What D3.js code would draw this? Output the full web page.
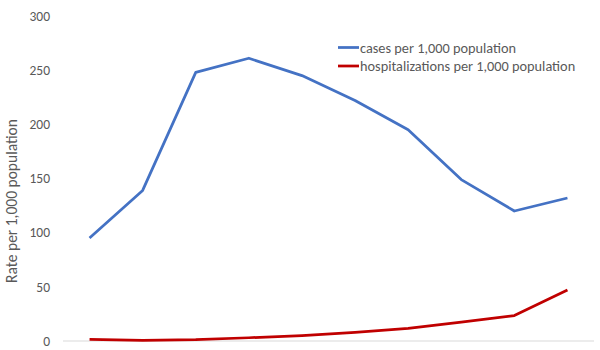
<!DOCTYPE html>
<html>
<head>
<meta charset="UTF-8">
<script src="https://d3js.org/d3.v7.min.js"></script>
<style>
  body { margin: 0; background: #fff; }
  text { font-family: Calibri, Carlito, "Liberation Sans", sans-serif; fill: #595959; }
</style>
</head>
<body>
<div id="chart"></div>
<script>
// data
var periods = ["1", "2", "3", "4", "5", "6", "7", "8", "9", "10"];
var cases = [95, 139, 248, 261, 245, 222, 195, 149, 120, 132];
var hosp = [1.6, 0.5, 1.2, 3, 5, 8, 11.7, 17.5, 23.5, 47];
var yTicks = [0, 50, 100, 150, 200, 250, 300];
var seriesNames = ["cases per 1,000 population", "hospitalizations per 1,000 population"];
var colors = ["#4472C4", "#C00000"];

var width = 600, height = 350;
var margin = {left: 63, top: 16, right: 6, bottom: 9};
var w = width - margin.left - margin.right,
    h = height - margin.top - margin.bottom;

var svg = d3.select("#chart").append("svg")
  .attr("width", width).attr("height", height);
var g = svg.append("g").attr("transform", "translate(" + margin.left + "," + margin.top + ")");

var x = d3.scaleBand().domain(periods).range([0, w]);
var y = d3.scaleLinear().domain([0, 300]).range([h, 0]);

// y axis labels only
var yAxis = g.append("g").call(d3.axisLeft(y).tickValues(yTicks).tickSize(0).tickPadding(13));
yAxis.select(".domain").remove();
yAxis.selectAll("text").style("font-size", "13.5px").attr("fill", "#595959");

// x axis line, no labels
g.append("line")
  .attr("x1", 0).attr("x2", w)
  .attr("y1", y(0)).attr("y2", y(0))
  .attr("stroke", "#d9d9d9").attr("stroke-width", 1);

g.append("text")
  .attr("transform", "rotate(-90)")
  .attr("x", -(201 - margin.top))
  .attr("y", -46)
  .attr("text-anchor", "middle")
  .style("font-size", "15.5px")
  .text("Rate per 1,000 population");

var line = d3.line()
  .x(function(d, i) { return x(periods[i]) + x.bandwidth() / 2; })
  .y(function(d) { return y(d); });

[cases, hosp].forEach(function(s, i) {
  g.append("path")
    .attr("d", line(s))
    .attr("fill", "none")
    .attr("stroke", colors[i])
    .attr("stroke-width", 2.75)
    .attr("stroke-linejoin", "round");
});

// legend
var leg = svg.append("g").attr("transform", "translate(338,47.5)");
seriesNames.forEach(function(n, i) {
  var r = leg.append("g").attr("transform", "translate(0," + (i * 18.5) + ")");
  r.append("line").attr("x1", 0).attr("x2", 21)
    .attr("stroke", colors[i]).attr("stroke-width", 2.75);
  r.append("text").attr("x", 22).attr("dy", "0.35em")
    .style("font-size", "14.3px").text(n);
});
</script>
</body>
</html>
